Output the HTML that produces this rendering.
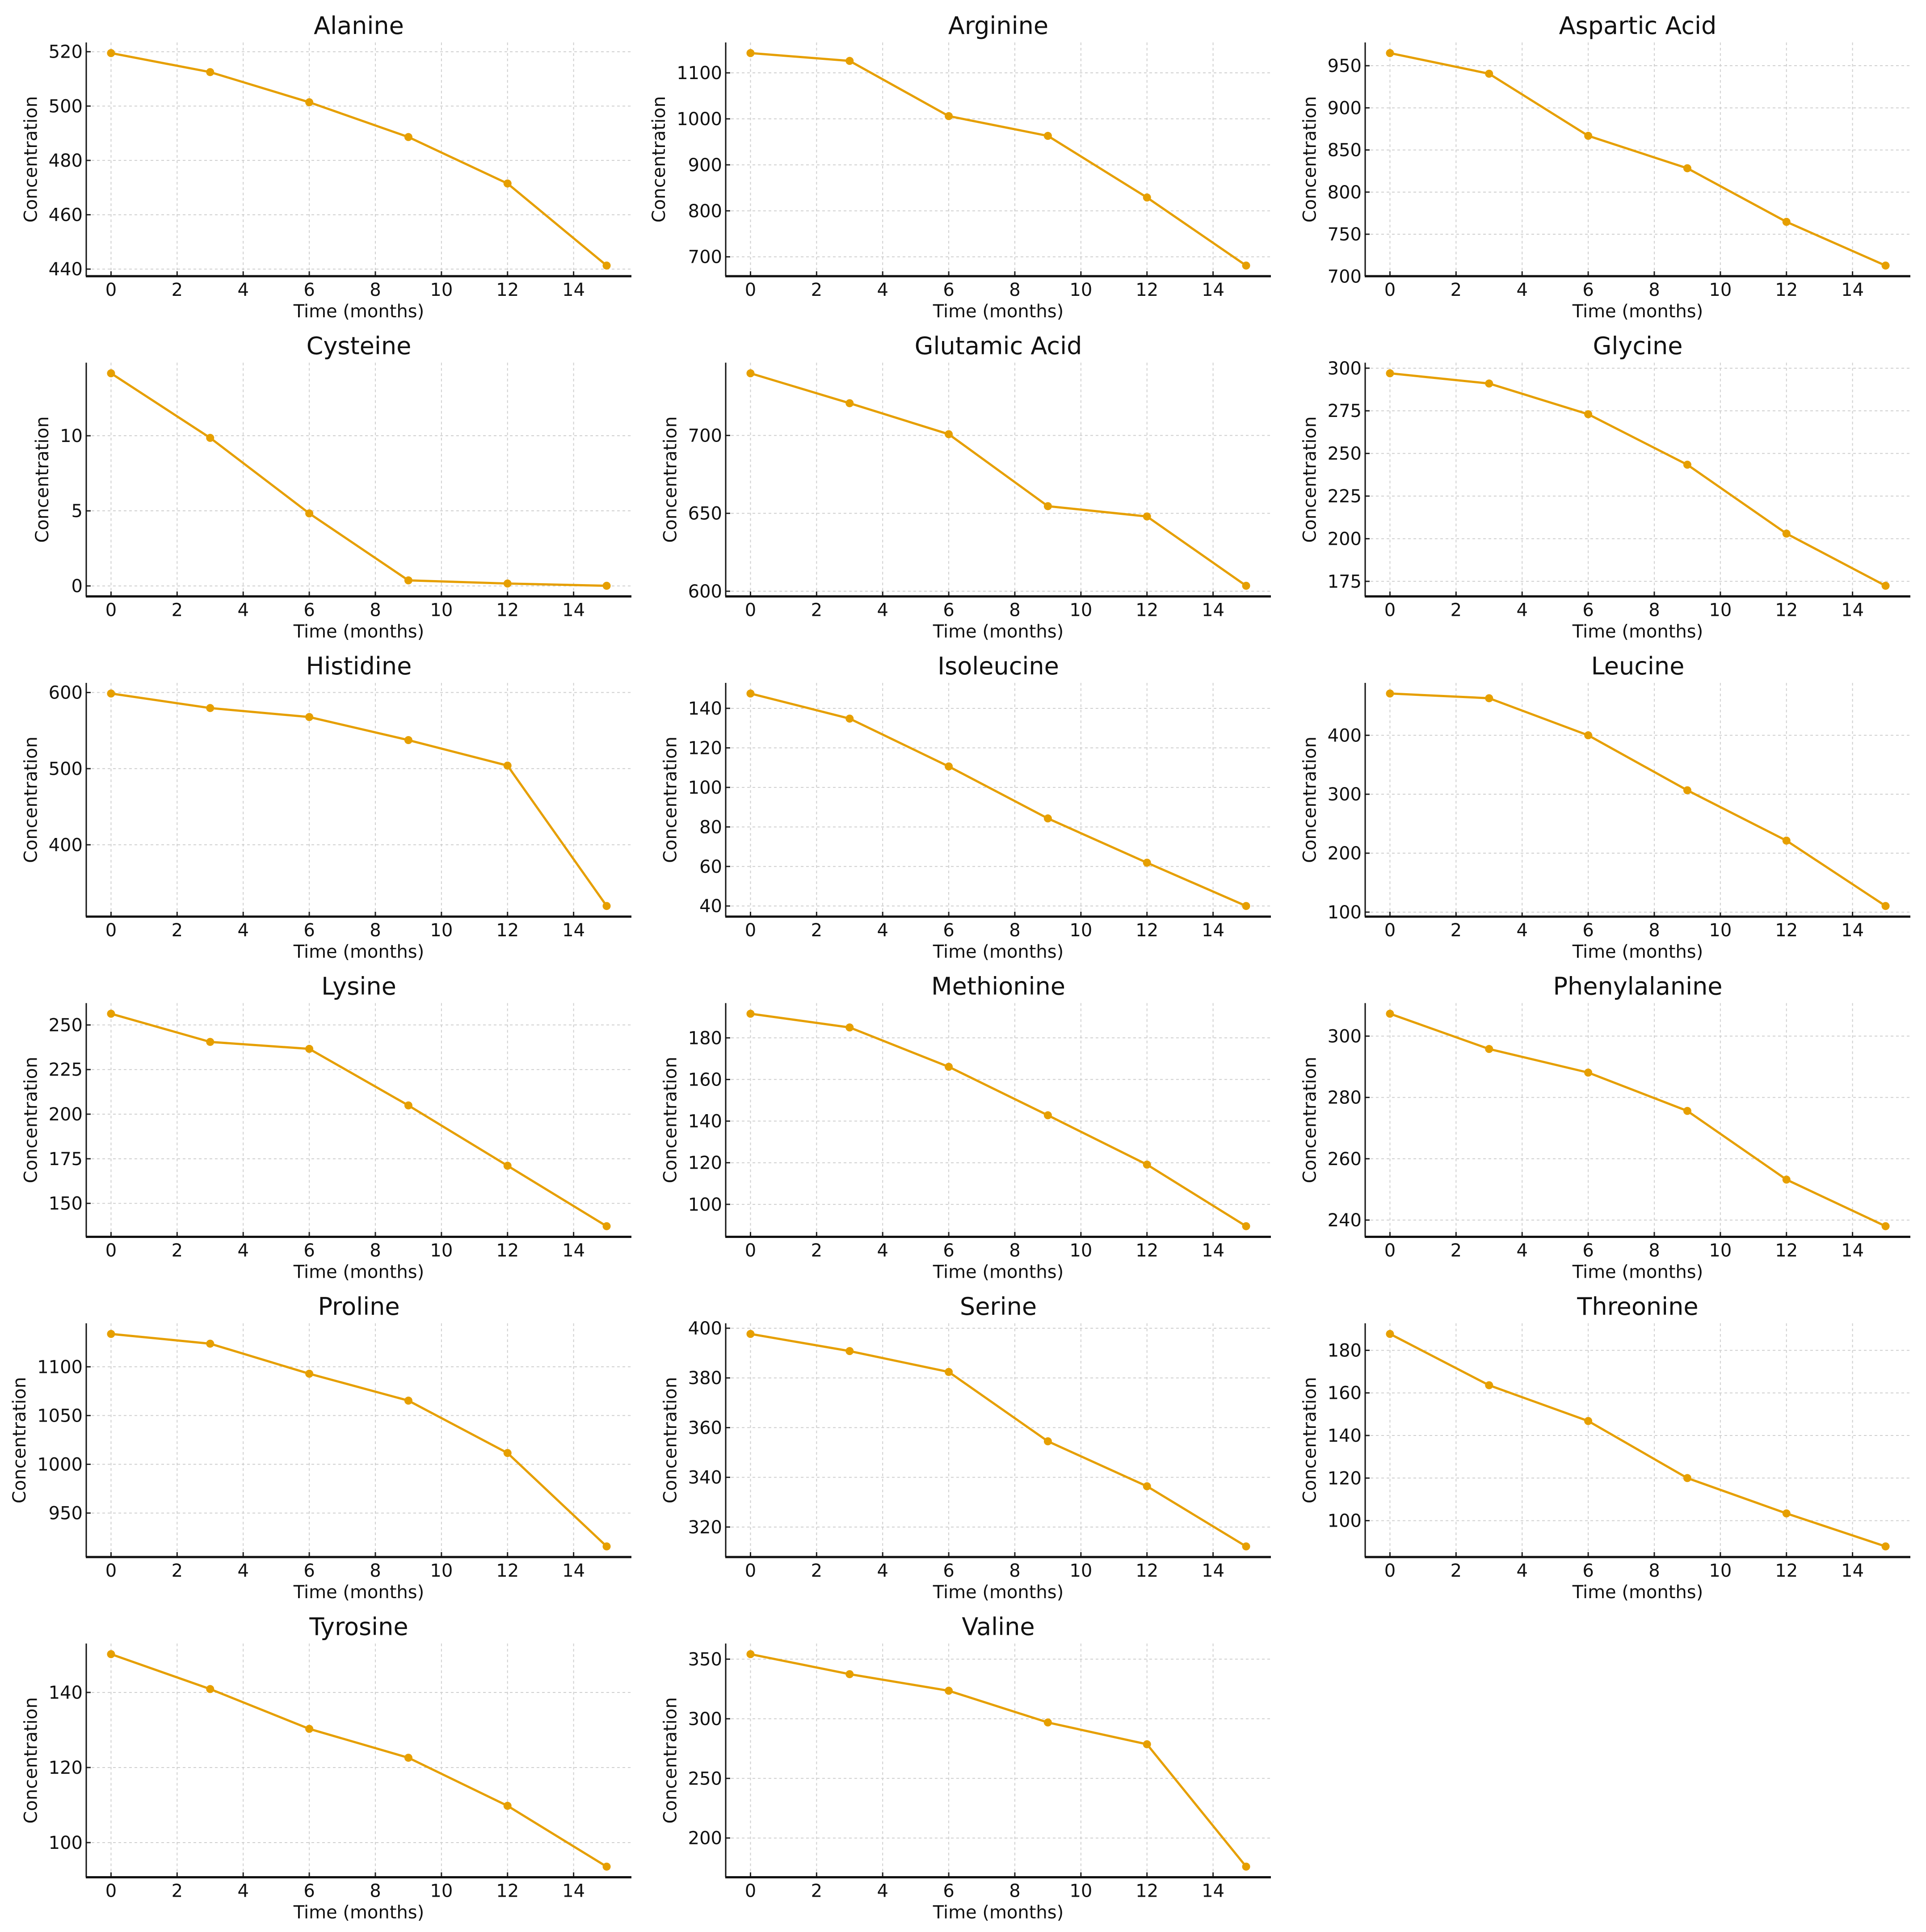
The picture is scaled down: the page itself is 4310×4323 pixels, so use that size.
<!DOCTYPE html>
<html><head><meta charset="utf-8">
<style>
html,body{margin:0;padding:0;background:#fff;}
svg{display:block;font-family:"DejaVu Sans","Liberation Sans",sans-serif;}
</style></head>
<body>
<svg id="fig" width="4310" height="4323" viewBox="0 0 4310 4323" xmlns="http://www.w3.org/2000/svg"></svg>
<script>
const months = [0, 3, 6, 9, 12, 15];
const xTicks = [0, 2, 4, 6, 8, 10, 12, 14];
const names = ["Alanine","Arginine","Aspartic Acid","Cysteine","Glutamic Acid","Glycine","Histidine","Isoleucine","Leucine","Lysine","Methionine","Phenylalanine","Proline","Serine","Threonine","Tyrosine","Valine"];
const alanine = [519.5, 512.5, 501.4, 488.6, 471.5, 441.3];
const arginine = [1143, 1126, 1006, 963, 829, 681];
const asparticAcid = [965, 940.5, 866.8, 828.3, 764.7, 712.8];
const cysteine = [14.16, 9.86, 4.83, 0.37, 0.16, 0.01];
const glutamicAcid = [739.9, 720.7, 700.8, 654.6, 648, 603.5];
const glycine = [297, 291, 273, 243.4, 203, 172.4];
const histidine = [598.7, 579.6, 567.8, 537.5, 504, 319.6];
const isoleucine = [147.5, 134.8, 110.6, 84.3, 61.9, 40];
const leucine = [470.9, 462.9, 400, 306.7, 221.3, 110.4];
const lysine = [256.3, 240.5, 236.6, 204.9, 171.1, 137.2];
const methionine = [191.6, 185, 166.1, 142.8, 119.1, 89.5];
const phenylalanine = [307.3, 295.8, 288.1, 275.6, 253.2, 238];
const proline = [1133.7, 1123.7, 1092.9, 1065.3, 1011.6, 915.8];
const serine = [397.7, 390.8, 382.4, 354.5, 336.4, 312.2];
const threonine = [187.7, 163.6, 146.8, 120, 103.4, 87.9];
const tyrosine = [150.2, 140.9, 130.3, 122.6, 109.8, 93.6];
const valine = [354.2, 337.4, 323.5, 296.9, 278.6, 176];
const series = [alanine, arginine, asparticAcid, cysteine, glutamicAcid, glycine, histidine, isoleucine, leucine, lysine, methionine, phenylalanine, proline, serine, threonine, tyrosine, valine];
const yTicks = [
 [440,460,480,500,520],[700,800,900,1000,1100],[700,750,800,850,900,950],[0,5,10],[600,650,700],
 [175,200,225,250,275,300],[400,500,600],[40,60,80,100,120,140],[100,200,300,400],[150,175,200,225,250],
 [100,120,140,160,180],[240,260,280,300],[950,1000,1050,1100],[320,340,360,380,400],[100,120,140,160,180],
 [100,120,140],[200,250,300,350]
];

const NS = "http://www.w3.org/2000/svg";
const svg = document.getElementById("fig");
function mk(tag, attrs, parent){
  const e = document.createElementNS(NS, tag);
  for (const k in attrs) e.setAttribute(k, attrs[k]);
  (parent || svg).appendChild(e);
  return e;
}
const COL = "#e69f00";
const W = 1220, H = 523;
series.forEach((vals, i) => {
  const c = i % 3, r = Math.floor(i / 3);
  const L = 193 + 1431 * c, T = 95 + 716.5 * r, B = T + H, R = L + W;
  const g = mk("g", {});
  
  
  const mn = Math.min(...vals), mx = Math.max(...vals), span = mx - mn;
  const y0 = mn - 0.05 * span, y1 = mx + 0.05 * span;
  const xs = v => L + (v + 0.75) / 16.5 * W;
  const ys = v => B - (v - y0) / (y1 - y0) * H;
  xTicks.forEach(t => {
    const l = mk("line", {x1: xs(t), x2: xs(t), y1: T, y2: B, stroke: "#cfcfcf", "stroke-width": 2, "stroke-dasharray": "6,6"}, g);
    
    
    const tk = mk("line", {x1: xs(t), x2: xs(t), y1: B - 11, y2: B, stroke: "#222", "stroke-width": 3}, g);
    
    
    const tx = mk("text", {x: xs(t), y: B + 44, "font-size": 40, "text-anchor": "middle", fill: "#111"}, g);
    tx.textContent = t;
    
    
  });
  let maxW = 0;
  yTicks[i].forEach(t => {
    const l = mk("line", {x1: L, x2: R, y1: ys(t), y2: ys(t), stroke: "#cfcfcf", "stroke-width": 2, "stroke-dasharray": "6,6"}, g);
    
    
    const tk = mk("line", {x1: L, x2: L + 10, y1: ys(t), y2: ys(t), stroke: "#222", "stroke-width": 3}, g);
    
    
    const tx = mk("text", {x: L - 8, y: ys(t) + 14, "font-size": 40, "text-anchor": "end", fill: "#111"}, g);
    tx.textContent = t;
    
    
    maxW = Math.max(maxW, String(t).length * 25.5);
  });
  const sl = mk("line", {x1: L, x2: L, y1: T, y2: B, stroke: "#111", "stroke-width": 3}, g);
  
  
  const sb = mk("line", {x1: L - 1, x2: R, y1: B, y2: B, stroke: "#111", "stroke-width": 5}, g);
  
  
  const pts = months.map((m, k) => xs(m) + "," + ys(vals[k])).join(" ");
  const pl = mk("polyline", {points: pts, fill: "none", stroke: COL, "stroke-width": 5, "stroke-linejoin": "round"}, g);
  
  
  months.forEach((m, k) => {
    const p = mk("circle", {cx: xs(m), cy: ys(vals[k]), r: 9, fill: COL}, g);
    
    
  });
  const ti = mk("text", {x: (L + R) / 2, y: T - 19, "font-size": 54, "text-anchor": "middle", fill: "#111"}, g);
  ti.textContent = names[i];
  
  
  const xl = mk("text", {x: (L + R) / 2, y: B + 92, "font-size": 40, "text-anchor": "middle", fill: "#111"}, g);
  xl.textContent = "Time (months)";
  
  
  const lx = L - 8 - maxW - 26, ly = (T + B) / 2;
  const yl = mk("text", {x: lx, y: ly, "font-size": 40, "text-anchor": "middle", fill: "#111", transform: "rotate(-90 " + lx + " " + ly + ")"}, g);
  yl.textContent = "Concentration";
  
  
});
</script>
</body></html>
